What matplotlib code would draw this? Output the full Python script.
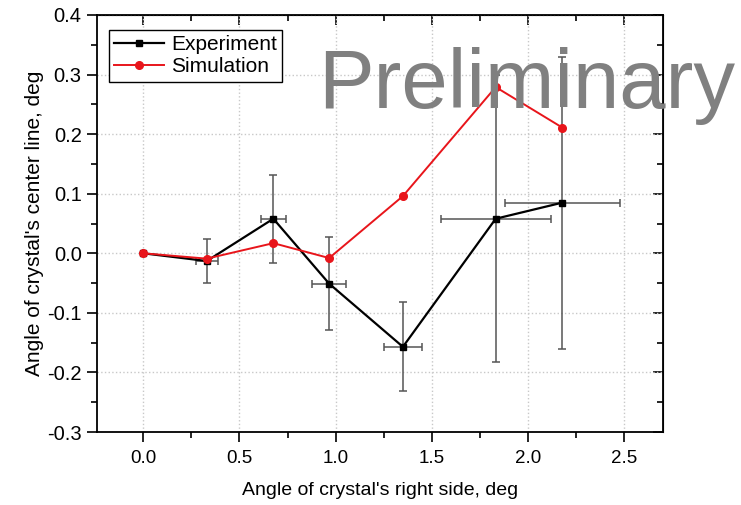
import numpy as np
import matplotlib
matplotlib.use("Agg")
from matplotlib import pyplot as plt
from matplotlib.ticker import MultipleLocator

plt.rcParams['font.family'] = ['Liberation Sans', 'DejaVu Sans']

# data
exp_x = [0.0, 0.33, 0.676, 0.966, 1.349, 1.831, 2.177]
exp_y = [0.0, -0.013, 0.058, -0.051, -0.157, 0.058, 0.085]
exp_xerr = [0.0, 0.056, 0.066, 0.088, 0.10, 0.285, 0.30]
exp_yerr = [0.0, 0.037, 0.074, 0.078, 0.075, 0.241, 0.245]

sim_x = [0.0, 0.33, 0.676, 0.966, 1.349, 1.831, 2.177]
sim_y = [0.0, -0.009, 0.017, -0.008, 0.096, 0.279, 0.211]

fig = plt.figure(figsize=(7.41, 5.05), dpi=100)
ax = fig.add_axes([97/741, 1-432/505, (663-97)/741, (432-15)/505])

# error bars first, then the lines on top
ax.errorbar(exp_x, exp_y, xerr=exp_xerr, yerr=exp_yerr, fmt='none',
            ecolor='#555555', elinewidth=1.1, capsize=3, capthick=1.1, zorder=2)
ax.plot(exp_x, exp_y, color='black', marker='s', markersize=5, lw=1.6,
        label='Experiment', zorder=3)
ax.plot(sim_x, sim_y, color='#e8151b', marker='o', markersize=5.5, lw=1.4,
        label='Simulation', zorder=4)

ax.set_xlim(-0.24, 2.70)
ax.set_ylim(-0.3, 0.4)
ax.xaxis.set_major_locator(MultipleLocator(0.5))
ax.xaxis.set_minor_locator(MultipleLocator(0.25))
ax.yaxis.set_major_locator(MultipleLocator(0.1))
ax.yaxis.set_minor_locator(MultipleLocator(0.05))
ax.xaxis.set_major_formatter(matplotlib.ticker.FormatStrFormatter('%.1f'))
ax.yaxis.set_major_formatter(matplotlib.ticker.FormatStrFormatter('%.1f'))

ax.tick_params(which='both', direction='out', width=1.2, top=False, right=False)
ax.tick_params(axis='x', labelsize=13.5, pad=6)
ax.tick_params(axis='y', labelsize=14.5, pad=4)
ax.tick_params(which='major', length=7)
ax.tick_params(which='minor', length=4)

# mirrored ticks pointing inward on top and right
axt = ax.secondary_xaxis('top')
axt.xaxis.set_major_locator(MultipleLocator(0.5))
axt.xaxis.set_minor_locator(MultipleLocator(0.25))
axt.tick_params(which='both', direction='in', labeltop=False, width=1.2)
axt.tick_params(which='major', length=7)
axt.tick_params(which='minor', length=4)
axr = ax.secondary_yaxis('right')
axr.yaxis.set_major_locator(MultipleLocator(0.1))
axr.yaxis.set_minor_locator(MultipleLocator(0.05))
axr.tick_params(which='both', direction='in', labelright=False, width=1.2)
axr.tick_params(which='major', length=7)
axr.tick_params(which='minor', length=4)

for s in ax.spines.values():
    s.set_linewidth(1.3)

ax.grid(True, which='major', color='#c8c8c8', linestyle=':', linewidth=1.0)
ax.set_axisbelow(True)

ax.set_xlabel("Angle of crystal's right side, deg", fontsize=14, labelpad=11)
ax.set_ylabel("Angle of crystal's center line, deg", fontsize=15, labelpad=2)

leg = ax.legend(loc='upper left', fontsize=15, handlelength=2.4,
                bbox_to_anchor=(0.021, 0.964), borderaxespad=0,
                fancybox=False, edgecolor='black', framealpha=1,
                borderpad=0.25, labelspacing=0.15, handletextpad=0.35)
leg.get_frame().set_linewidth(1.0)

fig.text(318/741, 1-108/505, 'Preliminary', fontsize=60, color='#808080',
         ha='left', va='baseline', zorder=10)

fig.savefig('out.png', dpi=100)
